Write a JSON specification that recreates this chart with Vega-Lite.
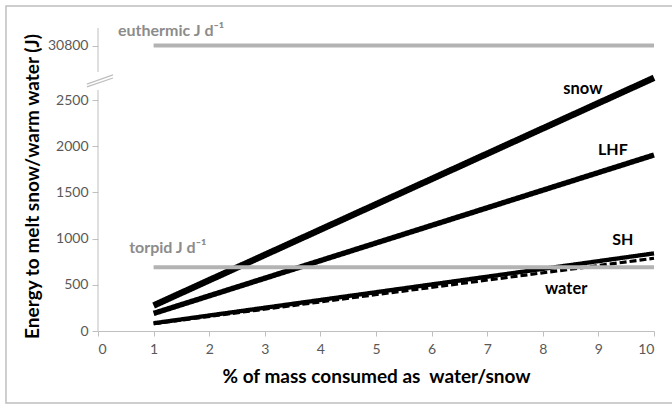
{
  "$schema": "https://vega.github.io/schema/vega-lite/v6.json",
  "width": 556,
  "height": 303,
  "autosize": {"type": "none"},
  "padding": {"left": 98, "top": 28, "right": 18, "bottom": 74},
  "background": "white",
  "config": {"view": {"stroke": null}, "font": "Lato"},
  "datasets": {
    "series": [
      {"series": "snow", "pct": 1, "energy": 276},
      {"series": "snow", "pct": 10, "energy": 2740},
      {"series": "LHF", "pct": 1, "energy": 190},
      {"series": "LHF", "pct": 10, "energy": 1905},
      {"series": "SH", "pct": 1, "energy": 84},
      {"series": "SH", "pct": 10, "energy": 840},
      {"series": "water", "pct": 1, "energy": 79},
      {"series": "water", "pct": 10, "energy": 787}
    ],
    "thresholds": [
      {"state": "torpid", "pct": 1, "energy": 690},
      {"state": "torpid", "pct": 10, "energy": 690},
      {"state": "euthermic", "pct": 1, "energy": 30800},
      {"state": "euthermic", "pct": 10, "energy": 30800}
    ],
    "one": [{}]
  },
  "layer": [
    {
      "data": {"name": "series"},
      "mark": {"type": "line", "color": "black", "strokeCap": "butt"},
      "encoding": {
        "x": {
          "field": "pct", "type": "quantitative",
          "scale": {"domain": [0, 10], "nice": false},
          "axis": {
            "values": [0, 1, 2, 3, 4, 5, 6, 7, 8, 9, 10],
            "title": "% of mass consumed as \u00a0water/snow",
            "grid": false,
            "domainColor": "#bfbfbf", "tickColor": "#bfbfbf", "tickSize": 5,
            "labelColor": "#595959", "labelFontSize": 14, "labelPadding": 6, "labelFont": "Lato",
            "titleFontSize": 19, "titleFontWeight": "bold", "titleColor": "black", "titlePadding": 11, "titleFont": "Lato"
          }
        },
        "y": {
          "field": "energy", "type": "quantitative",
          "scale": {"domain": [0, 2800, 30500, 31000], "range": [303, 44.28, 44, 0], "nice": false, "zero": false},
          "axis": {
            "values": [0, 500, 1000, 1500, 2000, 2500, 30800],
            "format": "d",
            "title": "Energy to melt snow/warm water (J)",
            "grid": false, "domain": false,
            "tickColor": "#bfbfbf", "tickSize": 6,
            "labelColor": "#595959", "labelFontSize": 14, "labelPadding": 4, "labelFont": "Lato",
            "titleFontSize": 19, "titleFontWeight": "bold", "titleColor": "black", "titleFont": "Lato",
            "titleAngle": -90, "titleX": -66, "titleY": 158, "titleAlign": "center", "titleBaseline": "middle"
          }
        },
        "detail": {"field": "series"},
        "strokeWidth": {"field": "series", "type": "nominal", "scale": {"domain": ["snow", "LHF", "SH", "water"], "range": [6.5, 3.2, 2.8, 2.8]}, "legend": null},
        "strokeDash": {"field": "series", "type": "nominal", "scale": {"domain": ["snow", "LHF", "SH", "water"], "range": [[1, 0], [1, 0], [1, 0], [7, 3]]}, "legend": null}
      }
    },
    {
      "data": {"name": "thresholds"},
      "mark": {"type": "line", "color": "#b3b3b3", "strokeWidth": 4, "strokeCap": "butt"},
      "encoding": {
        "x": {"field": "pct", "type": "quantitative"},
        "y": {"field": "energy", "type": "quantitative"},
        "detail": {"field": "state"}
      }
    },
    {
      "data": {"name": "one"},
      "mark": {"type": "rect", "fill": null, "stroke": "#bfbfbf", "strokeWidth": 1.5, "clip": false},
      "encoding": {
        "x": {"datum": -1.655, "type": "quantitative"},
        "x2": {"datum": 10.8},
        "y": {"datum": 31250, "type": "quantitative"},
        "y2": {"datum": -779}
      }
    },
    {
      "data": {"name": "one"},
      "mark": {"type": "rule", "color": "#bfbfbf", "strokeWidth": 1},
      "encoding": {
        "x": {"datum": 0, "type": "quantitative"},
        "y": {"datum": 0, "type": "quantitative"},
        "y2": {"datum": 2608}
      }
    },
    {
      "data": {"name": "one"},
      "mark": {"type": "rule", "color": "#bfbfbf", "strokeWidth": 1},
      "encoding": {
        "x": {"datum": 0, "type": "quantitative"},
        "y": {"datum": 30500, "type": "quantitative"},
        "y2": {"datum": 31000}
      }
    },
    {
      "data": {"name": "one"},
      "mark": {"type": "rule", "color": "#bfbfbf", "strokeWidth": 1.3},
      "encoding": {
        "x": {"datum": -0.2, "type": "quantitative"},
        "x2": {"datum": 0.27},
        "y": {"datum": 2641, "type": "quantitative"},
        "y2": {"datum": 2738}
      }
    },
    {
      "data": {"name": "one"},
      "mark": {"type": "rule", "color": "#bfbfbf", "strokeWidth": 1.3},
      "encoding": {
        "x": {"datum": -0.2, "type": "quantitative"},
        "x2": {"datum": 0.27},
        "y": {"datum": 2673, "type": "quantitative"},
        "y2": {"datum": 2771}
      }
    },
    {
      "data": {"name": "one"},
      "mark": {"type": "text", "text": "euthermic J d⁻¹", "align": "left", "baseline": "middle", "fontSize": 16, "fontWeight": "bold", "color": "#8c8c8c", "font": "Lato"},
      "encoding": {
        "x": {"datum": 0.36, "type": "quantitative"},
        "y": {"datum": 30966, "type": "quantitative"}
      }
    },
    {
      "data": {"name": "one"},
      "mark": {"type": "text", "text": "torpid J d⁻¹", "align": "left", "baseline": "middle", "fontSize": 16, "fontWeight": "bold", "color": "#8c8c8c", "font": "Lato"},
      "encoding": {
        "x": {"datum": 0.56, "type": "quantitative"},
        "y": {"datum": 898, "type": "quantitative"}
      }
    },
    {
      "data": {"name": "one"},
      "mark": {"type": "text", "text": "snow", "align": "center", "baseline": "middle", "fontSize": 16.5, "fontWeight": "bold", "color": "black", "font": "Lato"},
      "encoding": {
        "x": {"datum": 8.72, "type": "quantitative"},
        "y": {"datum": 2619, "type": "quantitative"}
      }
    },
    {
      "data": {"name": "one"},
      "mark": {"type": "text", "text": "LHF", "align": "center", "baseline": "middle", "fontSize": 16, "fontWeight": "bold", "color": "black", "font": "Lato"},
      "encoding": {
        "x": {"datum": 9.26, "type": "quantitative"},
        "y": {"datum": 1959, "type": "quantitative"}
      }
    },
    {
      "data": {"name": "one"},
      "mark": {"type": "text", "text": "SH", "align": "center", "baseline": "middle", "fontSize": 16, "fontWeight": "bold", "color": "black", "font": "Lato"},
      "encoding": {
        "x": {"datum": 9.44, "type": "quantitative"},
        "y": {"datum": 985, "type": "quantitative"}
      }
    },
    {
      "data": {"name": "one"},
      "mark": {"type": "text", "text": "water", "align": "center", "baseline": "middle", "fontSize": 16.5, "fontWeight": "bold", "color": "black", "font": "Lato"},
      "encoding": {
        "x": {"datum": 8.42, "type": "quantitative"},
        "y": {"datum": 455, "type": "quantitative"}
      }
    }
  ]
}
